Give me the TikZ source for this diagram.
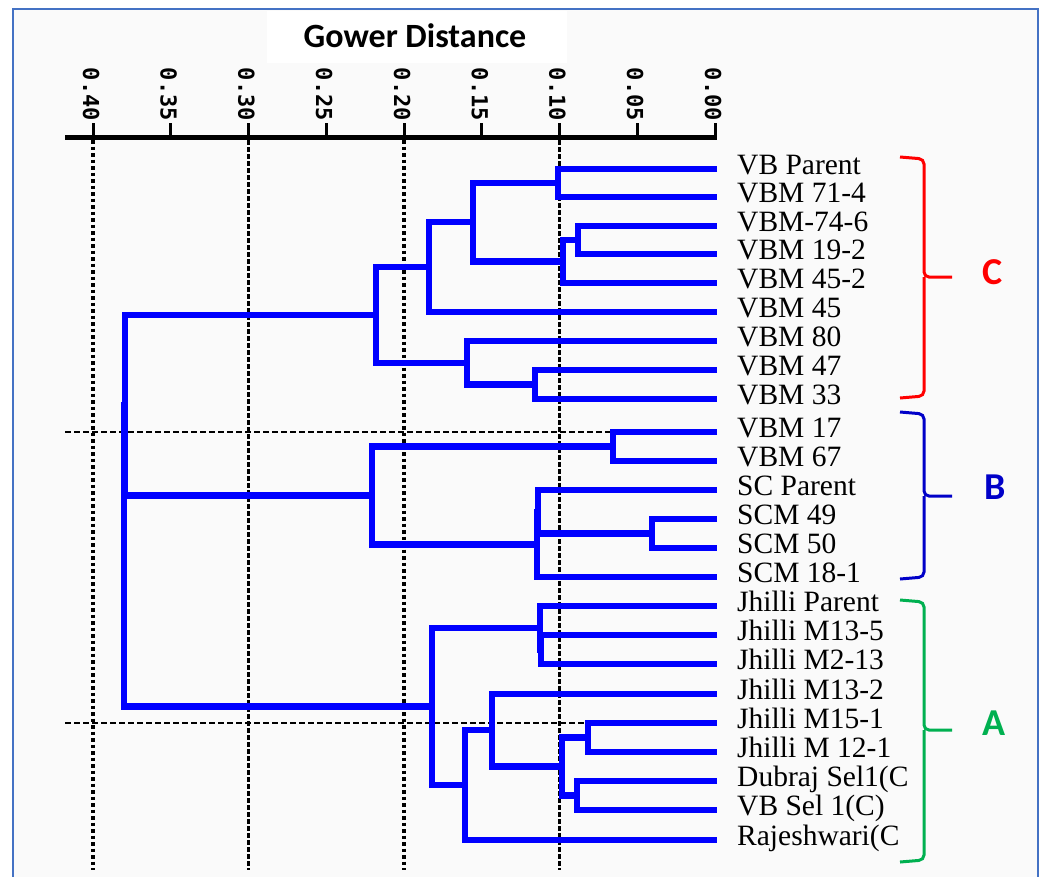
\documentclass[tikz,border=0pt]{standalone}
\usepackage{fontspec}
\setmainfont{Liberation Serif}
\newfontfamily\grpfont{Carlito}
\newfontfamily\tickfont{DejaVu Sans Mono}
\usetikzlibrary{positioning}
\definecolor{TreeBlue}{RGB}{0,0,255}
\definecolor{GrpRed}{RGB}{255,0,0}
\definecolor{GrpBlue}{RGB}{0,0,200}
\definecolor{GrpGreen}{HTML}{00B050}
\definecolor{FrameBlue}{HTML}{4472C4}
\definecolor{PanelGrey}{HTML}{FAFAFA}

\begin{document}
\begin{tikzpicture}[x=1pt,y=-1pt,
  br/.style={draw=TreeBlue,line width=6.5pt},
  leaf/.style={inner sep=0pt,anchor=west,font=\fontsize{29.5}{32}\selectfont,text height=0.66em,text depth=0pt},
  grp/.style={inner sep=0pt,font=\grpfont\bfseries\fontsize{38}{40}\selectfont,text height=0.64em,text depth=0pt},
  brk/.style={line width=3pt,rounded corners=5pt},
  ticklab/.style={rotate=-90,anchor=east,inner sep=0pt,font=\tickfont\bfseries\fontsize{22}{23}\selectfont},
  vdots/.style={line width=3.5pt,dash pattern={on 3.5pt off 3pt}},
  vdash/.style={line width=2.2pt,dash pattern={on 5pt off 2pt}},
  hdash/.style={line width=2.4pt,dash pattern={on 6pt off 3pt}}]
  \useasboundingbox (0,0) rectangle (1041,876);
  \draw[draw=FrameBlue,line width=2.5pt,fill=PanelGrey] (13,9) rectangle (1038,905);
  \fill[white] (267,11) rectangle (567,63);
  \node[anchor=base,inner sep=0pt,font=\grpfont\bfseries\fontsize{34}{36}\selectfont] (title) at (415,47) {Gower Distance};

  % scale
  \draw[line width=5pt] (65,137) -- (717,137);
  \foreach \v in {0.40,0.35,0.30,0.25,0.20,0.15,0.10,0.05,0.00} {
    \draw[line width=3pt] (715-1555*\v,137) -- (715-1555*\v,123);
    \node[ticklab] at (713-1555*\v,121) {\v};
  }
  \foreach \v in {0.40,0.20} \draw[vdots] (715-1555*\v,140) -- (715-1555*\v,870);
  \foreach \v in {0.30,0.10} \draw[vdash] (715-1555*\v,140) -- (715-1555*\v,870);
  \draw[hdash] (65,432) -- (613,432);
  \draw[hdash] (65,723) -- (588,723);

  % leaves
  \foreach \i/\y/\txt in {1/169/VB Parent,2/197/VBM 71-4,3/226/VBM-74-6,4/254/VBM 19-2,
      5/283/VBM 45-2,6/312/VBM 45,7/341/VBM 80,8/370/VBM 47,9/399/VBM 33,
      10/432/VBM 17,11/461/VBM 67,12/490/SC Parent,13/519/SCM 49,14/548/SCM 50,15/577/SCM 18-1,
      16/606/Jhilli Parent,17/635/Jhilli M13-5,18/664/Jhilli M2-13,19/694/Jhilli M13-2,
      20/723/Jhilli M15-1,21/752/Jhilli M 12-1,22/781/Dubraj Sel1(C,23/810/VB Sel 1(C),24/840/Rajeshwari(C} {
    \coordinate (l\i) at (717,\y);
    \node[leaf,right=20pt of l\i,yshift=-2pt] (t\i) {\txt};
  }

  % joins
  \coordinate (a1) at (558,183);
  \coordinate (a2) at (578,240);
  \coordinate (a3) at (563,261.5);
  \coordinate (a4) at (473,222);
  \coordinate (a5) at (429,267);
  \coordinate (a6) at (535,384.5);
  \coordinate (a7) at (467,363);
  \coordinate (a8) at (376,315);
  \coordinate (b1) at (613,446.5);
  \coordinate (b2) at (652,533.5);
  \coordinate (b3) at (538,512);
  \coordinate (b4) at (537,544.5);
  \coordinate (b5) at (372,495.5);
  \coordinate (c1) at (541,649.5);
  \coordinate (c2) at (540,628);
  \coordinate (c3) at (588,737.5);
  \coordinate (c4) at (577,795.5);
  \coordinate (c5) at (562,766.5);
  \coordinate (c6) at (492,730);
  \coordinate (c7) at (465,785);
  \coordinate (c8) at (432,706.5);
  \coordinate (r1) at (125,405);
  \coordinate (r2) at (124,556);

  \draw[br] (l1) -| (a1) |- (l2);
  \draw[br] (l3) -| (a2) |- (l4);
  \draw[br] (a2) -| (a3) |- (l5);
  \draw[br] (a1) -| (a4) |- (a3);
  \draw[br] (a4) -| (a5) |- (l6);
  \draw[br] (l8) -| (a6) |- (l9);
  \draw[br] (l7) -| (a7) |- (a6);
  \draw[br] (a5) -| (a8) |- (a7);
  \draw[br] (l10) -| (b1) |- (l11);
  \draw[br] (l13) -| (b2) |- (l14);
  \draw[br] (l12) -| (b3) |- (b2);
  \draw[br] (b3) -| (b4) |- (l15);
  \draw[br] (b1) -| (b5) |- (b4);
  \draw[br] (l17) -| (c1) |- (l18);
  \draw[br] (l16) -| (c2) |- (c1);
  \draw[br] (l20) -| (c3) |- (l21);
  \draw[br] (l22) -| (c4) |- (l23);
  \draw[br] (c3) -| (c5) |- (c4);
  \draw[br] (l19) -| (c6) |- (c5);
  \draw[br] (c6) -| (c7) |- (l24);
  \draw[br] (c2) -| (c8) |- (c7);
  \draw[br] (a8) -| (r1) |- (b5);
  \draw[br] (r1) -| (r2) |- (c8);

  % groups
  \coordinate (tipC) at (952,277);
  \coordinate (tipB) at (952,496);
  \coordinate (tipA) at (952,730);
  \draw[brk,draw=GrpRed] (900,157) -- (924,159) -- (924,277) -- (tipC);
  \draw[brk,draw=GrpRed] (924,277) -- (924,396) -- (900,398);
  \draw[brk,draw=GrpBlue] (900,412) -- (924,414) -- (924,496) -- (tipB);
  \draw[brk,draw=GrpBlue] (924,496) -- (924,577) -- (900,579);
  \draw[brk,draw=GrpGreen] (900,600) -- (924,602) -- (924,730) -- (tipA);
  \draw[brk,draw=GrpGreen] (924,730) -- (924,860) -- (900,862);
  \node[grp,text=GrpRed,right=30pt of tipC,yshift=-4pt] (grpC) {C};
  \node[grp,text=GrpBlue,right=32pt of tipB] (grpB) {B};
  \node[grp,text=GrpGreen,right=30pt of tipA,yshift=-2pt] (grpA) {A};
\end{tikzpicture}
\end{document}
